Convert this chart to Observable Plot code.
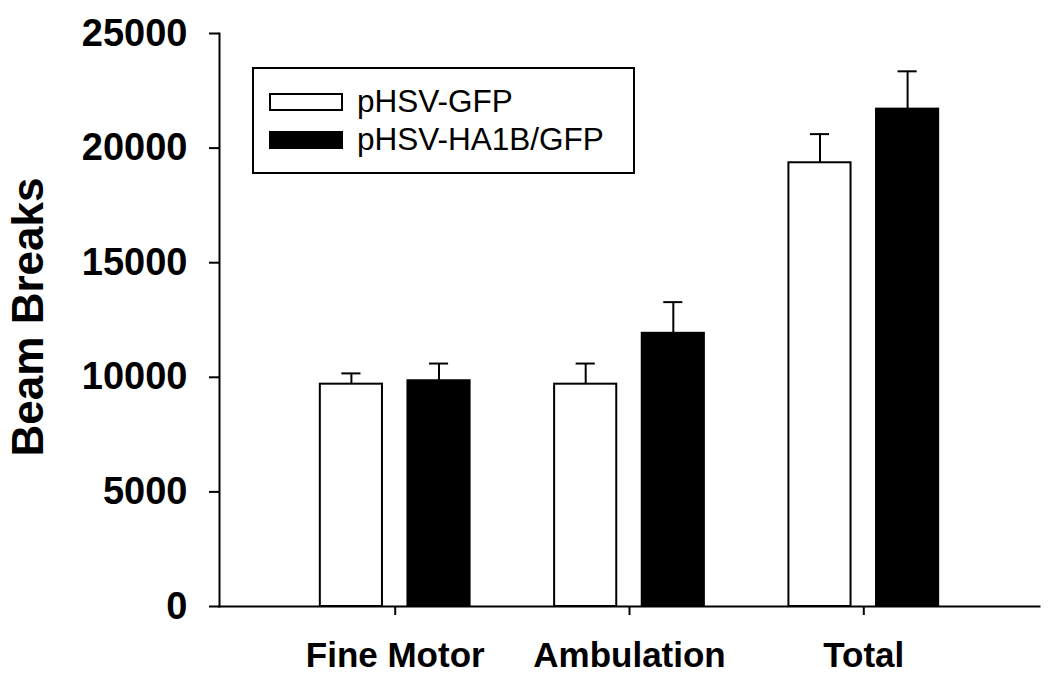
<!DOCTYPE html>
<html>
<head>
<meta charset="utf-8">
<script src="https://cdn.jsdelivr.net/npm/d3@7"></script>
<script src="https://cdn.jsdelivr.net/npm/@observablehq/plot@0.6"></script>
<style>
  html, body { margin: 0; padding: 0; background: white; }
  #wrap { position: relative; width: 1050px; height: 684px; font-family: "Liberation Sans", Arial, sans-serif; }
  #legend { position: absolute; left: 252px; top: 67px; width: 383px; height: 107px; box-sizing: border-box;
            border: 2px solid black; padding-top: 13.7px; padding-left: 15px; background: white; }
  .row { display: flex; align-items: center; height: 38px; }
  .sw { width: 74px; height: 18px; box-sizing: border-box; border: 2px solid black; margin-right: 14px; }
  .lab { font-size: 31.5px; line-height: 31.5px; color: black; }
</style>
</head>
<body>
<div id="wrap"></div>
<script>
const categories = ["Fine Motor", "Ambulation", "Total"];
const groups = ["pHSV-GFP", "pHSV-HA1B/GFP"];
const groupFill = ["white", "black"];
const gfpMean = [9700, 9700, 19360];
const gfpErr = [470, 900, 1250];
const ha1bMean = [9850, 11920, 21700];
const ha1bErr = [750, 1360, 1650];
const yTicks = [0, 5000, 10000, 15000, 20000, 25000];
const yLabel = "Beam Breaks";

const data = categories.flatMap((c, i) => [
  {category: c, group: groups[0], value: gfpMean[i], upper: gfpMean[i] + gfpErr[i]},
  {category: c, group: groups[1], value: ha1bMean[i], upper: ha1bMean[i] + ha1bErr[i]}
]);

const W = 1050, H = 684, mL = 219, mR = 11, mT = 33, mB = 78;
const fxPadIn = 0.2, fxPadOut = 0.35;
// facets start inside the outer frame; shift the axis lines back to the outer frame edges
const fxBand = d3.scaleBand(categories, [mL, W - mR]).paddingInner(fxPadIn).paddingOuter(fxPadOut);
const axisShift = mL - fxBand(categories[0]);

const chart = Plot.plot({
  width: W, height: H,
  marginLeft: mL, marginRight: mR, marginTop: mT, marginBottom: mB,
  style: {fontFamily: "'Liberation Sans', Arial, sans-serif", background: "white", color: "black"},
  fx: {domain: categories, paddingInner: fxPadIn, paddingOuter: fxPadOut, label: null, round: false},
  x: {domain: groups, paddingInner: 0.291, paddingOuter: 0.215, axis: null, round: false},
  y: {domain: [0, 25000], label: null},
  color: {domain: groups, range: groupFill},
  marks: [
    Plot.ruleX(data, {fx: "category", x: "group", y1: "value", y2: "upper", stroke: "black", strokeWidth: 2}),
    Plot.tickY(data, {fx: "category", x: "group", y: "upper", stroke: "black", strokeWidth: 2, insetLeft: 21.5, insetRight: 21.5}),
    Plot.barY(data, {fx: "category", x: "group", y: "value", fill: "group", stroke: "black", strokeWidth: 2}),
    Plot.frame({anchor: "left", facet: "super", stroke: "black", strokeWidth: 2, insetLeft: axisShift}),
    Plot.frame({anchor: "bottom", facet: "super", stroke: "black", strokeWidth: 2, insetLeft: axisShift, insetRight: axisShift}),
    Plot.axisY({ticks: yTicks, tickFormat: "d", tickSize: 10, tickPadding: 22, dx: axisShift,
                fontSize: 38, fontWeight: "bold", strokeWidth: 2, label: null}),
    Plot.text([yLabel], {facet: "super", frameAnchor: "left", textAnchor: "middle", rotate: -90, dx: -191 + axisShift, dy: -3,
                fontSize: 44, fontWeight: "bold", fill: "black"}),
    Plot.axisFx({anchor: "bottom", tickSize: 9, tickPadding: 27, fontSize: 35, fontWeight: "bold",
                 strokeWidth: 2, label: null})
  ]
});

const wrap = document.getElementById("wrap");
wrap.appendChild(chart);

const legend = document.createElement("div");
legend.id = "legend";
groups.forEach((g, i) => {
  const row = document.createElement("div");
  row.className = "row";
  const sw = document.createElement("div");
  sw.className = "sw";
  sw.style.background = groupFill[i];
  const lab = document.createElement("span");
  lab.className = "lab";
  lab.textContent = g;
  row.appendChild(sw);
  row.appendChild(lab);
  legend.appendChild(row);
});
wrap.appendChild(legend);
</script>
</body>
</html>
